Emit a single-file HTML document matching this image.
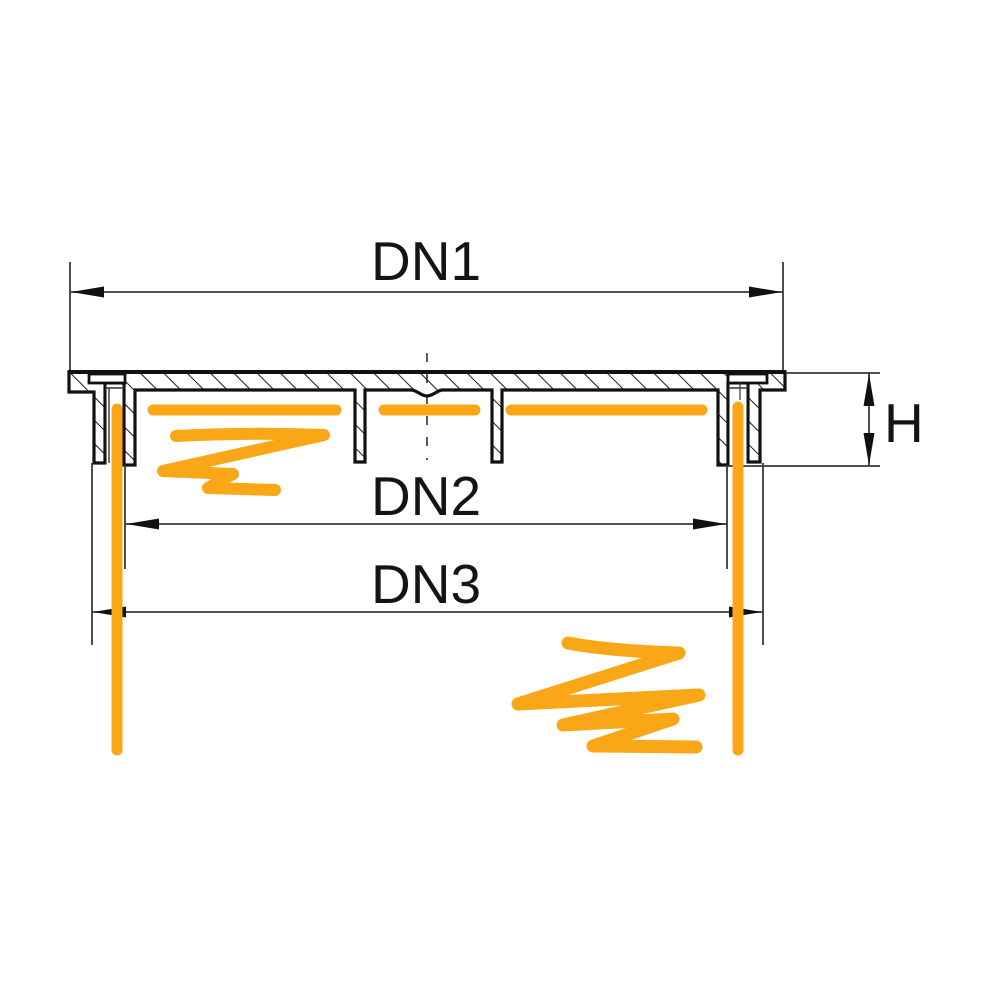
<!DOCTYPE html>
<html>
<head>
<meta charset="utf-8">
<style>
  html, body { margin: 0; padding: 0; background: #fff; }
  svg { display: block; }
  text { font-family: "Liberation Sans", Arial, sans-serif; fill: #141414; }
</style>
</head>
<body>
<svg width="1000" height="1000" viewBox="0 0 1000 1000" xmlns="http://www.w3.org/2000/svg">
  <defs>
    <pattern id="hatch" width="16.5" height="16.5" patternUnits="userSpaceOnUse" patternTransform="rotate(-45)">
      <line x1="0" y1="-2" x2="0" y2="19" stroke="#1a1a1a" stroke-width="2"/>
    </pattern>
  </defs>
  <rect width="1000" height="1000" fill="#fff"/>

  <!-- DN1 dimension -->
  <g stroke="#3a3a3a" stroke-width="1.8" fill="none">
    <line x1="70" y1="262" x2="70" y2="373"/>
    <line x1="783" y1="262" x2="783" y2="373"/>
    <line x1="70" y1="292" x2="783" y2="292"/>
  </g>
  <polygon points="71,292 104,286.5 104,297.5" fill="#111"/>
  <polygon points="782,292 749,286.5 749,297.5" fill="#111"/>
  <text x="371" y="280" font-size="55">DN1</text>

  <!-- center line -->
  <line x1="427" y1="353" x2="427" y2="460" stroke="#333" stroke-width="1.6" stroke-dasharray="9 12"/>

  <!-- main profile -->
  <path d="M69,372 H785 V390 H760 V462 H748 V383 H728 V465 H718 V390 H502 V462 H492 V390 H442
           C436,391 433,396 427,396 C421,396 418,391 412,390 H365 V462 H355 V390 H135 V465 H124 V383 H105 V463 H94 V392 H69 Z"
        fill="url(#hatch)" stroke="#111" stroke-width="3.2" stroke-linejoin="miter"/>
  <!-- top thick line -->
  <line x1="68" y1="372" x2="786" y2="372" stroke="#111" stroke-width="4"/>
  <!-- notches -->
  <rect x="89" y="374" width="36" height="9" fill="#fff" stroke="#111" stroke-width="2.8"/>
  <rect x="728" y="374" width="39" height="9" fill="#fff" stroke="#111" stroke-width="2.8"/>
  <!-- slots (white) -->
  <rect x="106.6" y="384.6" width="15.8" height="82" fill="#fff"/>
  <rect x="729.6" y="384.6" width="16.8" height="82" fill="#fff"/>
  <line x1="109" y1="388" x2="109" y2="463" stroke="#333" stroke-width="1.4"/>
  <line x1="105" y1="388" x2="124" y2="388" stroke="#333" stroke-width="1.4"/>
  <line x1="728" y1="388" x2="748" y2="388" stroke="#333" stroke-width="1.4"/>
  <line x1="740" y1="383" x2="740" y2="400" stroke="#333" stroke-width="1.2"/>

  <!-- H dimension -->
  <g stroke="#3a3a3a" stroke-width="1.8" fill="none">
    <line x1="786" y1="373" x2="880" y2="373"/>
    <line x1="726" y1="466" x2="880" y2="466"/>
    <line x1="869" y1="373" x2="869" y2="466"/>
  </g>
  <polygon points="869,374 863.5,406 874.5,406" fill="#111"/>
  <polygon points="869,465 863.5,433 874.5,433" fill="#111"/>
  <text x="884" y="442" font-size="55">H</text>

  <!-- DN2 dimension -->
  <g stroke="#3a3a3a" stroke-width="1.8" fill="none">
    <line x1="125" y1="465" x2="125" y2="569"/>
    <line x1="727" y1="465" x2="727" y2="569"/>
    <line x1="125" y1="524" x2="727" y2="524"/>
  </g>
  <polygon points="126,524 159,518.5 159,529.5" fill="#111"/>
  <polygon points="726,524 693,518.5 693,529.5" fill="#111"/>
  <text x="371" y="515" font-size="55">DN2</text>

  <!-- DN3 dimension -->
  <g stroke="#3a3a3a" stroke-width="1.8" fill="none">
    <line x1="92" y1="463" x2="92" y2="645"/>
    <line x1="763" y1="463" x2="763" y2="645"/>
    <line x1="92" y1="612" x2="763" y2="612"/>
  </g>
  <polygon points="93,612 126,606.5 126,617.5" fill="#111"/>
  <polygon points="762,612 729,606.5 729,617.5" fill="#111"/>
  <text x="371" y="603" font-size="55">DN3</text>

  <!-- orange marker strokes -->
  <g stroke="#F9A716" fill="none" stroke-linecap="round" stroke-linejoin="round">
    <line x1="153" y1="410" x2="336" y2="410" stroke-width="11"/>
    <line x1="384" y1="410" x2="475" y2="410" stroke-width="11"/>
    <line x1="511" y1="410" x2="702" y2="410" stroke-width="11"/>
    <line x1="117" y1="409" x2="117" y2="750" stroke-width="11"/>
    <line x1="738" y1="407" x2="738" y2="750" stroke-width="11"/>
    <path d="M176,436 Q250,432 324,435 L163,471 L233,474 L208,488 L275,490" stroke-width="12"/>
    <path d="M568,643 Q610,651 679,653 L518,704 L699,695 L563,725 L673,719 L593,746 L696,747" stroke-width="13"/>
  </g>
</svg>
</body>
</html>
